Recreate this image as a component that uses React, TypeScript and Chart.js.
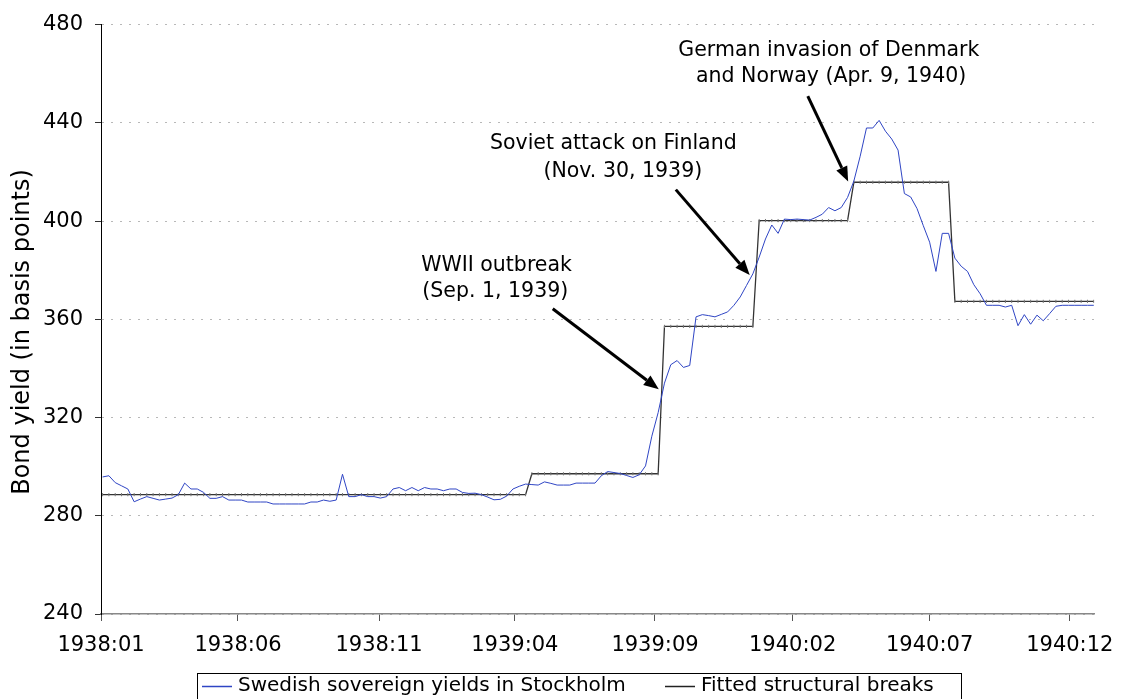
import React, { useEffect, useRef } from 'react';
import { Chart, registerables } from 'chart.js';

Chart.register(...registerables);

// Weekly observations (index = week since start of Jan 1938), basis points
const yields: number[] = [
  295.8, 296.3, 293.5, 292.2, 290.9, 285.7, 286.8, 287.8, 287.1, 286.4,
  286.8, 287.2, 288.6, 293.3, 290.9, 290.9, 289.5, 287.1, 287.1, 287.8,
  286.4, 286.4, 286.4, 285.6, 285.6, 285.6, 285.6, 284.8, 284.8, 284.8,
  284.8, 284.8, 284.8, 285.6, 285.6, 286.4, 285.9, 286.4, 296.9, 287.8,
  287.8, 288.6, 287.8, 287.8, 287.2, 287.8, 290.9, 291.5, 290.2, 291.5,
  290.2, 291.5, 290.9, 290.9, 290.2, 290.9, 290.9, 289.5, 289.1, 289.2,
  288.6, 287.6, 286.5, 286.7, 288.0, 290.9, 292.0, 292.9, 292.7, 292.5,
  293.8, 293.2, 292.5, 292.5, 292.5, 293.3, 293.3, 293.3, 293.3, 296.3,
  298.0, 297.6, 297.2, 296.4, 295.6, 296.7, 300.3, 312.4, 322.0, 334.0,
  341.5, 343.2, 340.4, 341.2, 361.0, 361.9, 361.5, 361.0, 362.0, 363.0,
  365.7, 369.1, 373.8, 378.5, 385.3, 392.7, 398.4, 395.0, 400.8, 400.6,
  400.8, 400.6, 400.4, 401.5, 402.8, 405.5, 404.2, 405.5, 409.6, 416.3,
  426.4, 437.9, 437.9, 441.0, 436.6, 433.4, 428.9, 411.2, 409.8, 405.1,
  398.1, 391.4, 379.5, 395.0, 395.0, 384.9, 381.6, 379.5, 374.1, 370.4,
  365.7, 365.7, 365.7, 365.0, 365.7, 357.4, 361.9, 358.0, 361.7, 359.4,
  362.3, 365.3, 365.7, 365.7, 365.7, 365.7, 365.7, 365.7,
];

// Fitted structural breaks: regime start week and fitted level
const breakStarts: number[] = [0, 68, 89, 104, 119, 135];
const breakLevels: number[] = [288.6, 297.1, 357.1, 400.2, 415.8, 367.3];

// X-axis tick positions (in weeks) and labels
const tickPositions: number[] = [-0.25, 21.45, 43.8, 65.3, 87.5, 109.3, 131.0, 153.2];
const tickLabels: string[] = ['1938:01', '1938:06', '1938:11', '1939:04', '1939:09', '1940:02', '1940:07', '1940:12'];

const seriesNames: string[] = ['Swedish sovereign yields in Stockholm', 'Fitted structural breaks'];
const seriesColors: string[] = ['#2f45c4', '#222222'];
const yTitle = 'Bond yield (in basis points)';

// Annotations (anchors in data coordinates: week index, basis points)
const noteLines: string[][] = [
  ['WWII outbreak', '(Sep. 1, 1939)'],
  ['Soviet attack on Finland', '(Nov. 30, 1939)'],
  ['German invasion of Denmark', 'and Norway (Apr. 9, 1940)'],
];
const noteTextAnchors: { x: number; y: number; align: CanvasTextAlign }[][] = [
  [{ x: 62.4, y: 381.7, align: 'center' }, { x: 62.2, y: 371.1, align: 'center' }],
  [{ x: 80.9, y: 431.4, align: 'center' }, { x: 82.4, y: 420.1, align: 'center' }],
  [{ x: 91.2, y: 469.5, align: 'left' }, { x: 136.8, y: 459.0, align: 'right' }],
];
const noteArrowFrom: { x: number; y: number }[] = [
  { x: 71.3, y: 364.3 },
  { x: 90.8, y: 412.8 },
  { x: 111.7, y: 450.9 },
];
const noteArrowTo: { x: number; y: number }[] = [
  { x: 88.1, y: 331.5 },
  { x: 102.5, y: 378.0 },
  { x: 118.1, y: 416.1 },
];

const FONT = '"DejaVu Sans", Verdana, sans-serif';

function fittedSeries(): number[] {
  return yields.map((_, i) => {
    let lvl = breakLevels[0];
    for (let k = 0; k < breakStarts.length; k++) {
      if (i >= breakStarts[k]) lvl = breakLevels[k];
    }
    return lvl;
  });
}

function drawArrow(ctx: CanvasRenderingContext2D, x1: number, y1: number, x2: number, y2: number) {
  const ang = Math.atan2(y2 - y1, x2 - x1);
  const headLen = 15;
  const headW = 6;
  const bx = x2 - Math.cos(ang) * headLen;
  const by = y2 - Math.sin(ang) * headLen;
  ctx.save();
  ctx.strokeStyle = '#000';
  ctx.fillStyle = '#000';
  ctx.lineWidth = 3;
  ctx.beginPath();
  ctx.moveTo(x1, y1);
  ctx.lineTo(bx, by);
  ctx.stroke();
  ctx.beginPath();
  ctx.moveTo(x2, y2);
  ctx.lineTo(bx + Math.sin(ang) * headW, by - Math.cos(ang) * headW);
  ctx.lineTo(bx - Math.sin(ang) * headW, by + Math.cos(ang) * headW);
  ctx.closePath();
  ctx.fill();
  ctx.restore();
}

const overlayPlugin = {
  id: 'overlay',
  afterDraw(chart: any) {
    const ctx: CanvasRenderingContext2D = chart.ctx;
    const xs = chart.scales.x;
    const ys = chart.scales.y;
    ctx.save();
    // y-axis title
    ctx.save();
    ctx.translate(23, 332);
    ctx.rotate(-Math.PI / 2);
    ctx.font = `24px ${FONT}`;
    ctx.fillStyle = '#000';
    ctx.textAlign = 'center';
    ctx.textBaseline = 'middle';
    ctx.fillText(yTitle, 0, 0);
    ctx.restore();
    // annotations
    ctx.font = `20.5px ${FONT}`;
    ctx.fillStyle = '#000';
    ctx.textBaseline = 'middle';
    noteLines.forEach((lines, n) => {
      lines.forEach((line, j) => {
        const a = noteTextAnchors[n][j];
        ctx.textAlign = a.align;
        ctx.fillText(line, xs.getPixelForValue(a.x), ys.getPixelForValue(a.y));
      });
      const f = noteArrowFrom[n];
      const t = noteArrowTo[n];
      drawArrow(ctx, xs.getPixelForValue(f.x), ys.getPixelForValue(f.y), xs.getPixelForValue(t.x), ys.getPixelForValue(t.y));
    });
    // legend box
    const boxL = 197, boxR = 961, boxT = 673;
    ctx.strokeStyle = '#000';
    ctx.lineWidth = 1;
    ctx.strokeRect(boxL + 0.5, boxT + 0.5, boxR - boxL, 40);
    const itemX = [202, 665];
    const midY = 686;
    ctx.font = `20px ${FONT}`;
    ctx.textAlign = 'left';
    ctx.textBaseline = 'middle';
    seriesNames.forEach((name, i) => {
      ctx.strokeStyle = seriesColors[i];
      ctx.lineWidth = 1.5;
      ctx.beginPath();
      ctx.moveTo(itemX[i], midY + 0.5);
      ctx.lineTo(itemX[i] + 30, midY + 0.5);
      ctx.stroke();
      ctx.fillStyle = '#000';
      ctx.fillText(name, itemX[i] + 36, midY);
    });
    ctx.restore();
  },
};

export default function App() {
  const ref = useRef<HTMLCanvasElement | null>(null);
  useEffect(() => {
    if (!ref.current) return;
    const fitted = fittedSeries();
    const chart = new Chart(ref.current, {
      type: 'line',
      data: {
        datasets: [
          {
            label: seriesNames[0],
            data: yields.map((v, i) => ({ x: i, y: v })),
            borderColor: seriesColors[0],
            borderWidth: 1,
            pointRadius: 0,
            tension: 0,
          },
          {
            label: seriesNames[1],
            data: fitted.map((v, i) => ({ x: i, y: v })),
            borderColor: '#333333',
            borderWidth: 1.3,
            pointRadius: 1.6,
            pointStyle: 'line',
            rotation: 90,
            pointBorderColor: '#777777',
            pointBorderWidth: 1,
            tension: 0,
          },
        ],
      },
      options: {
        animation: false,
        responsive: true,
        maintainAspectRatio: false,
        layout: { padding: { top: 21, right: 24, bottom: 0, left: 0 } },
        plugins: {
          legend: { display: false },
          tooltip: { enabled: false },
        },
        scales: {
          x: {
            type: 'linear',
            min: -0.25,
            max: 157.1,
            afterFit: (s: any) => { s.height = 85; },
            afterBuildTicks: (s: any) => { s.ticks = tickPositions.map((v) => ({ value: v })); },
            ticks: {
              autoSkip: false,
              maxRotation: 0,
              padding: 12,
              color: '#000',
              font: { family: FONT, size: 21 },
              callback: (_v: any, i: number) => tickLabels[i],
            },
            grid: {
              drawOnChartArea: false,
              drawTicks: true,
              tickLength: 7,
              tickColor: '#555',
            },
            border: { color: '#888', width: 1.5 },
          },
          y: {
            min: 240,
            max: 480,
            afterFit: (s: any) => { s.width = 101; },
            ticks: {
              stepSize: 40,
              padding: 12,
              color: '#000',
              font: { family: FONT, size: 21 },
            },
            grid: {
              color: '#b8b8b8',
              lineWidth: 1,
              tickLength: 6,
              tickColor: '#333',
            },
            border: { color: '#000', width: 1, dash: [2, 7] },
          },
        },
      },
      plugins: [overlayPlugin],
    });
    return () => chart.destroy();
  }, []);
  return (
    <div style={{ position: 'absolute', left: 0, top: 0, width: 1126, height: 699, background: '#fff' }}>
      <canvas ref={ref} />
    </div>
  );
}
